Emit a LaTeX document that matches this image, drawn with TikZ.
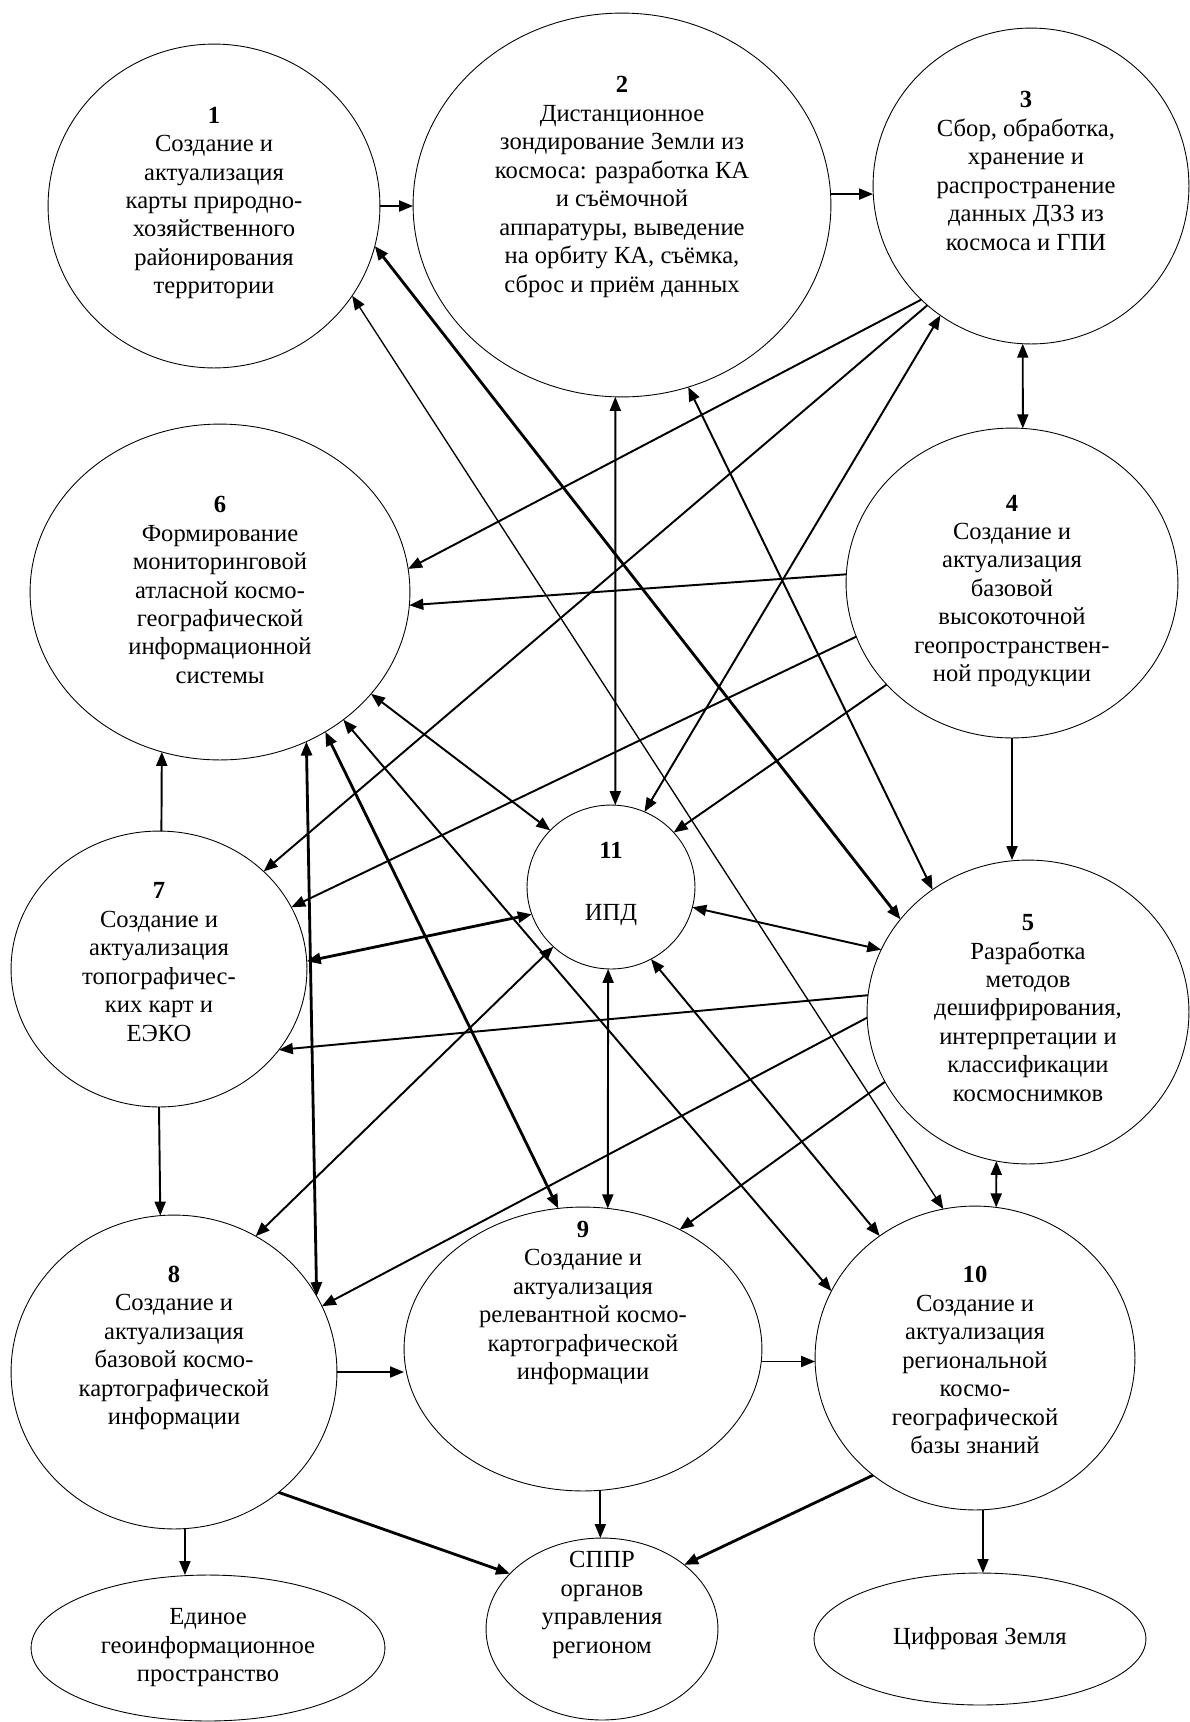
\documentclass[tikz,border=0pt]{standalone}
\usepackage{fontspec}
\setmainfont{Liberation Serif}
\usetikzlibrary{arrows.meta,shapes.geometric}

\begin{document}
\begin{tikzpicture}[x=0.02cm, y=-0.02cm,
  blob/.style={draw, ellipse, inner sep=0pt, outer sep=0pt, line width=0.5pt},
  sz/.style 2 args={minimum width=#1*0.04cm, minimum height=#2*0.04cm},
  txt/.style={align=center, inner sep=0pt, font=\fontsize{14}{16.2}\selectfont},
  arr/.style={-{Triangle[length=2.8mm, width=2.2mm]}, line width=1.1pt},
  darr/.style={{Triangle[length=2.8mm, width=2.2mm]}-{Triangle[length=2.8mm, width=2.2mm]}, line width=1.1pt},
  heavy/.style={line width=1.6pt},
  light/.style={line width=0.75pt}
]
\fill[white] (0,0) rectangle (1190,1722);

% ---------- Top row ----------
\node[blob, sz={166}{162}] (n1) at (214,206) {};
\node[txt] (t1) at (214,203) {\textbf{1}\\Создание и\\актуализация\\карты природно-\\хозяйственного\\районирования\\территории};
\node[blob, sz={209}{192}] (n2) at (622,205) {};
\node[txt] (t2) at (622,187) {\textbf{2}\\Дистанционное\\зондирование Земли из\\космоса: разработка КА\\и съёмочной\\аппаратуры, выведение\\на орбиту КА, съёмка,\\сброс и приём данных};
\node[blob, sz={158}{158}] (n3) at (1031,186) {};
\node[txt] (t3) at (1026,171) {\textbf{3}\\Сбор, обработка,\\хранение и\\распространение\\данных ДЗЗ из\\космоса и ГПИ};

% ---------- Middle ----------
\node[blob, sz={190}{168}] (n6) at (220,592) {};
\node[txt] (t6) at (220,590) {\textbf{6}\\Формирование\\мониторинговой\\атласной космо-\\географической\\информационной\\системы};
\node[blob, sz={166}{155}] (n4) at (1012,583) {};
\node[txt] (t4) at (1012,591) {\textbf{4}\\Создание и\\актуализация\\базовой\\высокоточной\\геопространствен-\\ной продукции};
\node[blob, sz={84}{82}] (n11) at (611,887) {};
\node[txt] (t11) at (611,884) {\textbf{11}\\[19pt]ИПД};
\node[blob, sz={148}{138}] (n7) at (159,969) {};
\node[txt] (t7) at (159,962) {\textbf{7}\\Создание и\\актуализация\\топографичес-\\ких карт и\\ЕЭКО};
\node[blob, sz={161}{152}] (n5) at (1028,1012) {};
\node[txt] (t5) at (1028,1008) {\textbf{5}\\Разработка\\методов\\дешифрирования,\\интерпретации и\\классификации\\космоснимков};

% ---------- Lower row ----------
\node[blob, sz={163}{157}] (n8) at (174,1372) {};
\node[txt] (t8) at (174,1348) {\textbf{8}\\Создание и\\актуализация\\базовой космо-\\картографической\\информации};
\node[blob, sz={179}{142}] (n9) at (583,1349) {};
\node[txt] (t9) at (583,1303) {\textbf{9}\\Создание и\\актуализация\\релевантной космо-\\картографической\\информации};
\node[blob, sz={160}{152}] (n10) at (975,1358) {};
\node[txt] (t10) at (975,1360) {\textbf{10}\\Создание и\\актуализация\\региональной\\космо-\\географической\\базы знаний};

% ---------- Results ----------
\node[blob, sz={177}{73}] (e) at (208,1648) {};
\node[txt] (te) at (208,1648) {Единое\\геоинформационное\\пространство};
\node[blob, sz={116}{91}] (s) at (602,1629) {};
\node[txt] (ts) at (602,1605) {СППР\\органов\\управления\\регионом};
\node[blob, sz={166}{66}] (z) at (980,1639) {};
\node[txt] (tz) at (980,1639) {Цифровая Земля};

% ---------- Chain arrows ----------
\draw[arr] (n1.east) -- (n1.east -| n2.west);
\draw[arr] (n2.3) -- (n2.3 -| n3.west);
\draw[darr] (n3.267) -- (n4.86);
\draw[arr] (n4.south) -- (n4.south |- n5.north);
\draw[darr] (n5.258) -- (n10.82);
\draw[arr] (n7.89) -- (n6.250);
\draw[arr] (n7.270) -- (n8.95);
\draw[arr] (n8.east) -- (n8.east -| n9.west);
\draw[arr] (n9.356) -- (n9.356 -| n10.west);
\draw[arr] (n8.274) -- (n8.274 |- e.north);
\draw[arr, heavy] (n8.311) -- (s.149);
\draw[arr] (n9.277) -- (n9.277 |- s.north);
\draw[arr, heavy] (n10.229) -- (s.38);
\draw[arr] (n10.273) -- (n10.273 |- z.north);

% ---------- Cross links ----------
\draw[darr, heavy] (n1.346) -- (n5.144);
\draw[darr, light] (n1.327) -- (n10.102);
\draw[darr] (n2.268) -- (n11.87);
\draw[darr] (n2.290) -- (n5.128);
\draw[arr] (n3.226) -- (n6.7);
\draw[arr] (n3.229) -- (n7.43);
\draw[darr] (n3.235) -- (n11.66);
\draw[arr] (n4.177) -- (n6.356);
\draw[arr] (n4.199) -- (n7.25);
\draw[arr] (n4.219) -- (n11.41);
\draw[darr] (n6.326) -- (n11.137);
\draw[darr, heavy] (n6.300) -- (n8.28);
\draw[darr, heavy] (n6.307) -- (n9.100);
\draw[darr] (n6.314) -- (n10.155);
\draw[darr, heavy] (n7.3) -- (n11.199);
\draw[arr] (n5.174) -- (n7.326);
\draw[darr] (n5.157) -- (n11.346);
\draw[darr] (n11.226) -- (n8.59);
\draw[darr] (n11.268) -- (n9.80);
\draw[darr] (n11.299) -- (n10.128);
\draw[arr] (n5.182) -- (n8.24);
\draw[arr] (n5.206) -- (n9.51);

\end{tikzpicture}
\end{document}
